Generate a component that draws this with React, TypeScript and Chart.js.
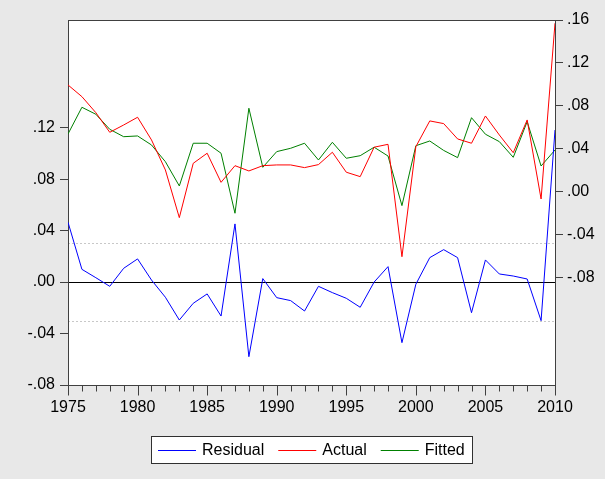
import React, { useEffect, useRef } from 'react';
import { Chart, registerables } from 'chart.js';

Chart.register(...registerables);

const years = [
  1975, 1976, 1977, 1978, 1979, 1980, 1981, 1982, 1983, 1984,
  1985, 1986, 1987, 1988, 1989, 1990, 1991, 1992, 1993, 1994,
  1995, 1996, 1997, 1998, 1999, 2000, 2001, 2002, 2003, 2004,
  2005, 2006, 2007, 2008, 2009, 2010,
];

const residual = [
  0.0465, 0.0099, 0.0034, -0.0033, 0.0107, 0.018, 0.0016, -0.0118, -0.0295, -0.0165,
  -0.0092, -0.0264, 0.0452, -0.058, 0.0027, -0.0121, -0.0144, -0.0225, -0.0033, -0.0082,
  -0.0126, -0.0196, 0.0, 0.012, -0.0471, -0.0017, 0.019, 0.0252, 0.019, -0.0238,
  0.0172, 0.0063, 0.0047, 0.0024, -0.03, 0.1182,
];

const actual = [
  0.0995, 0.0886, 0.0737, 0.0554, 0.0622, 0.0694, 0.0483, 0.0203, -0.0241, 0.0265,
  0.0359, 0.0088, 0.0243, 0.0194, 0.0243, 0.025, 0.025, 0.0225, 0.0253, 0.0368,
  0.0182, 0.0141, 0.0415, 0.0442, -0.0605, 0.042, 0.066, 0.0635, 0.0492, 0.0452,
  0.0706, 0.0529, 0.0364, 0.0669, -0.0067, 0.157,
];

const fitted = [
  0.0538, 0.0787, 0.0722, 0.0582, 0.0513, 0.052, 0.0436, 0.028, 0.0054, 0.0452,
  0.0452, 0.0359, -0.02, 0.0778, 0.0228, 0.0374, 0.0405, 0.0452, 0.0296, 0.0461,
  0.0312, 0.0336, 0.0415, 0.0333, -0.0129, 0.0429, 0.0473, 0.0385, 0.0318, 0.069,
  0.0536, 0.0467, 0.0321, 0.0653, 0.024, 0.0389,
];

const seriesLabels = ['Residual', 'Actual', 'Fitted'];
const seriesColors = ['#0000ff', '#ff0000', '#008000'];

const xLabelYears = [1975, 1980, 1985, 1990, 1995, 2000, 2005, 2010];
const leftTicks = [-0.08, -0.04, 0, 0.04, 0.08, 0.12];
const rightTicks = [-0.08, -0.04, 0, 0.04, 0.08, 0.12, 0.16];
const leftRange = [-0.08, 0.2037];
const rightRange = [-0.18, 0.16];
const residualSigma = 0.0306;

const FONT = "'Liberation Sans', Arial, sans-serif";

const fmt = (v: number) => {
  const s = Math.abs(v).toFixed(2).replace(/^0/, '');
  return (v < -1e-9 ? '-' : '') + s;
};

const eviewsPlugin = {
  id: 'eviewsDecor',
  beforeDraw(chart: any) {
    const { ctx, chartArea: a } = chart;
    ctx.save();
    ctx.fillStyle = '#ffffff';
    ctx.fillRect(a.left, a.top, a.right - a.left, a.bottom - a.top);
    ctx.restore();
  },
  beforeDatasetsDraw(chart: any) {
    const { ctx, chartArea: a } = chart;
    const yl = chart.scales.yL;
    const xs = chart.scales.x;
    ctx.save();
    ctx.lineWidth = 1;
    ctx.strokeStyle = '#c8c8c8';
    ctx.setLineDash([2, 2]);
    [residualSigma, -residualSigma].forEach((v) => {
      const p = Math.round(yl.getPixelForValue(v)) + 0.5;
      ctx.beginPath();
      ctx.moveTo(a.left, p);
      ctx.lineTo(a.right, p);
      ctx.stroke();
    });
    ctx.setLineDash([]);
    ctx.strokeStyle = '#000000';
    const z = Math.round(yl.getPixelForValue(0)) + 0.5;
    ctx.beginPath();
    ctx.moveTo(a.left, z);
    ctx.lineTo(a.right, z);
    ctx.stroke();
    // frame
    ctx.strokeStyle = '#404040';
    const l = Math.round(a.left) + 0.5;
    const t = Math.round(a.top) + 0.5;
    const r = Math.round(a.right) + 0.5;
    const b = Math.round(a.bottom) + 0.5;
    ctx.strokeRect(l, t, r - l, b - t);
    // x ticks (minor every year, major every 5)
    years.forEach((yr) => {
      const px = Math.round(xs.getPixelForValue(yr)) + 0.5;
      const len = yr % 5 === 0 ? 10 : 6;
      ctx.beginPath();
      ctx.moveTo(px, b);
      ctx.lineTo(px, b + len);
      ctx.stroke();
    });
    ctx.restore();
  },
  afterDraw(chart: any) {
    const { ctx, chartArea: a } = chart;
    ctx.save();
    ctx.lineWidth = 1;
    // legend
    ctx.font = `16px ${FONT}`;
    const lineLen = 38;
    const gapLT = 6;
    const gapItems = 14;
    const pad = 7;
    const widths = seriesLabels.map((l) => ctx.measureText(l).width);
    let total = pad * 2;
    widths.forEach((w, i) => {
      total += lineLen + gapLT + w + (i < widths.length - 1 ? gapItems : 0);
    });
    total = Math.round(total);
    const cx = (a.left + a.right) / 2;
    const bx = Math.round(cx - total / 2);
    const by = Math.round(a.bottom + 51);
    const bh = 27;
    ctx.fillStyle = '#ffffff';
    ctx.fillRect(bx, by, total, bh);
    ctx.strokeStyle = '#303030';
    ctx.strokeRect(bx + 0.5, by + 0.5, total, bh);
    let x = bx + pad;
    const my = by + bh / 2 + 0.5;
    seriesLabels.forEach((l, i) => {
      ctx.strokeStyle = seriesColors[i];
      ctx.beginPath();
      ctx.moveTo(x, Math.round(my) + 0.5);
      ctx.lineTo(x + lineLen, Math.round(my) + 0.5);
      ctx.stroke();
      x += lineLen + gapLT;
      ctx.fillStyle = '#000000';
      ctx.textBaseline = 'middle';
      ctx.textAlign = 'left';
      ctx.fillText(l, x, my + 1);
      x += widths[i] + gapItems;
    });
    ctx.restore();
  },
};

export default function App() {
  const ref = useRef<HTMLCanvasElement | null>(null);

  useEffect(() => {
    if (!ref.current) return;
    const mk = (arr: number[]) => years.map((yr, i) => ({ x: yr, y: arr[i] }));
    const chart = new Chart(ref.current, {
      type: 'line',
      data: {
        datasets: [
          { label: seriesLabels[0], data: mk(residual), yAxisID: 'yL', borderColor: seriesColors[0], borderWidth: 1, pointRadius: 0, tension: 0, fill: false },
          { label: seriesLabels[1], data: mk(actual), yAxisID: 'yR', borderColor: seriesColors[1], borderWidth: 1, pointRadius: 0, tension: 0, fill: false },
          { label: seriesLabels[2], data: mk(fitted), yAxisID: 'yR', borderColor: seriesColors[2], borderWidth: 1, pointRadius: 0, tension: 0, fill: false },
        ],
      },
      options: {
        responsive: false,
        animation: false,
        devicePixelRatio: 1,
        layout: { padding: { top: 20, left: 0, right: 0, bottom: 0 } },
        plugins: { legend: { display: false }, tooltip: { enabled: false } },
        scales: {
          x: {
            type: 'linear',
            min: years[0],
            max: years[years.length - 1],
            afterBuildTicks: (s: any) => { s.ticks = xLabelYears.map((v) => ({ value: v })); },
            afterFit: (s: any) => { s.height = 94; },
            grid: { display: true, drawOnChartArea: false, drawTicks: true, tickLength: 10, color: 'rgba(0,0,0,0)' },
            border: { display: false },
            ticks: {
              autoSkip: false,
              maxRotation: 0,
              padding: 3,
              color: '#000',
              font: { family: FONT, size: 16 },
              callback: (v: any) => String(v),
            },
          },
          yL: {
            type: 'linear',
            position: 'left',
            min: leftRange[0],
            max: leftRange[1],
            afterBuildTicks: (s: any) => { s.ticks = leftTicks.map((v) => ({ value: v })); },
            afterFit: (s: any) => { s.width = 68; },
            grid: { display: true, drawOnChartArea: false, drawTicks: true, tickLength: 8, color: '#404040' },
            border: { display: false },
            ticks: { padding: 5, color: '#000', font: { family: FONT, size: 16 }, callback: (v: any) => fmt(Number(v)) },
          },
          yR: {
            type: 'linear',
            position: 'right',
            min: rightRange[0],
            max: rightRange[1],
            afterBuildTicks: (s: any) => { s.ticks = rightTicks.map((v) => ({ value: v })); },
            afterFit: (s: any) => { s.width = 50; },
            grid: { display: true, drawOnChartArea: false, drawTicks: true, tickLength: 8, color: '#404040' },
            border: { display: false },
            ticks: { padding: 4, color: '#000', font: { family: FONT, size: 16 }, callback: (v: any) => fmt(Number(v)) },
          },
        },
      },
      plugins: [eviewsPlugin],
    } as any);
    return () => chart.destroy();
  }, []);

  return (
    <div style={{ position: 'absolute', left: 0, top: 0, width: 605, height: 479, background: '#e8e8e8' }}>
      <canvas ref={ref} width={605} height={479} style={{ display: 'block' }} />
    </div>
  );
}
